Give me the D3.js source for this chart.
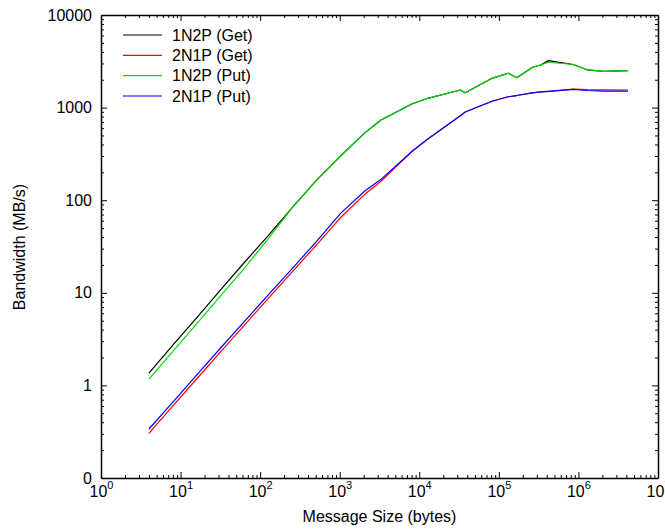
<!DOCTYPE html>
<html>
<head>
<meta charset="utf-8">
<script src="https://cdn.jsdelivr.net/npm/d3@7"></script>
<style>
  html, body { margin: 0; padding: 0; background: #fff; }
  svg { display: block; font-family: "Liberation Sans", Arial, Helvetica, sans-serif; }
</style>
</head>
<body>
<svg id="chart" width="665" height="531"></svg>
<script>
// ---- data ----
const sizes = [4, 8, 16, 32, 64, 128, 256, 512, 1024, 2048, 3300, 8192, 12800, 32768, 37800,
               82000, 131072, 168000, 262144, 340000, 420000, 860000, 1300000, 2097152, 4194304];
const get1N2P = [1.36, 2.72, 5.4, 10.8, 21.5, 42, 84, 165, 300, 530, 735, 1100, 1260, 1550, 1450,
                 2070, 2350, 2100, 2710, 2900, 3215, 2920, 2550, 2460, 2510];
const get2N1P = [0.304, 0.6, 1.18, 2.32, 4.5, 8.8, 17, 33, 65, 115, 160, 340, 458, 817, 895,
                 1170, 1310, 1350, 1440, 1475, 1500, 1580, 1560, 1555, 1550];
const put1N2P = [1.17, 2.33, 4.65, 9.3, 18.6, 39, 84, 165, 300, 530, 735, 1100, 1260, 1550, 1450,
                 2070, 2350, 2100, 2710, 2900, 3090, 2920, 2550, 2460, 2510];
const put2N1P = [0.338, 0.66, 1.3, 2.55, 4.95, 9.6, 18.5, 36, 72, 125, 168, 340, 458, 817, 895,
                 1170, 1310, 1350, 1440, 1475, 1500, 1575, 1530, 1510, 1505];
const seriesNames = ["1N2P (Get)", "2N1P (Get)", "1N2P (Put)", "2N1P (Put)"];
const seriesColors = ["#000000", "#ff0000", "#00dd00", "#0000ff"];
const seriesValues = [get1N2P, get2N1P, put1N2P, put2N1P];
const xTickExps = [0, 1, 2, 3, 4, 5, 6, 7];
const yTickValues = [0.1, 1, 10, 100, 1000, 10000];
const yTickLabels = ["0", "1", "10", "100", "1000", "10000"];
const xTitle = "Message Size (bytes)";
const yTitle = "Bandwidth (MB/s)";

// ---- layout ----
const L = 101, R = 658, T = 15, B = 478;
const svg = d3.select("#chart");
const x = d3.scaleLog().domain([1, 1e7]).range([L, R]);
const y = d3.scaleLog().domain([0.1, 1e4]).range([B, T]);

const majorX = xTickExps.map(e => Math.pow(10, e));
const minorX = [];
for (let e = 0; e < 7; e++) for (let m = 2; m <= 9; m++) minorX.push(m * Math.pow(10, e));
const minorY = [];
for (let e = -1; e < 4; e++) for (let m = 2; m <= 9; m++) minorY.push(m * Math.pow(10, e));

const MAJ = 6, MIN = 3;

function styleAxis(g) {
  g.selectAll("path.domain").attr("stroke", "#000").attr("stroke-width", 1.5);
  g.selectAll(".tick line").attr("stroke", "#000").attr("stroke-width", 1);
}

// bottom axis
const gB = svg.append("g").attr("transform", `translate(0,${B})`)
  .call(d3.axisBottom(x).tickValues(majorX).tickSizeInner(-MAJ).tickSizeOuter(0).tickPadding(0)
    .tickFormat(d => ""));
styleAxis(gB);
gB.selectAll(".tick text").each(function(d) {
  const t = d3.select(this).attr("dy", null).attr("y", 19)
    .attr("font-size", 16).attr("fill", "#000")
    .attr("font-family", '"Liberation Sans", Arial, sans-serif');
  t.text(null);
  t.append("tspan").text("10");
  t.append("tspan").attr("dy", -8).attr("font-size", 11).text(Math.round(Math.log10(d)));
});
svg.append("g").attr("transform", `translate(0,${B})`)
  .call(d3.axisBottom(x).tickValues(minorX).tickSizeInner(-MIN).tickSizeOuter(0).tickFormat(""))
  .call(g => { g.select("path.domain").remove(); styleAxis(g); });

// top axis (mirror)
const gT = svg.append("g").attr("transform", `translate(0,${T})`)
  .call(d3.axisTop(x).tickValues(majorX).tickSizeInner(-MAJ).tickSizeOuter(0).tickFormat(""));
styleAxis(gT);
svg.append("g").attr("transform", `translate(0,${T})`)
  .call(d3.axisTop(x).tickValues(minorX).tickSizeInner(-MIN).tickSizeOuter(0).tickFormat(""))
  .call(g => { g.select("path.domain").remove(); styleAxis(g); });

// left axis
const gL = svg.append("g").attr("transform", `translate(${L},0)`)
  .call(d3.axisLeft(y).tickValues(yTickValues).tickSizeInner(-MAJ).tickSizeOuter(0).tickPadding(9)
    .tickFormat((d, i) => yTickLabels[i]));
styleAxis(gL);
gL.selectAll(".tick text").attr("font-size", 16).attr("fill", "#000")
  .attr("font-family", '"Liberation Sans", Arial, sans-serif');
svg.append("g").attr("transform", `translate(${L},0)`)
  .call(d3.axisLeft(y).tickValues(minorY).tickSizeInner(-MIN).tickSizeOuter(0).tickFormat(""))
  .call(g => { g.select("path.domain").remove(); styleAxis(g); });

// right axis (mirror)
const gR = svg.append("g").attr("transform", `translate(${R},0)`)
  .call(d3.axisRight(y).tickValues(yTickValues).tickSizeInner(-MAJ).tickSizeOuter(0).tickFormat(""));
styleAxis(gR);
svg.append("g").attr("transform", `translate(${R},0)`)
  .call(d3.axisRight(y).tickValues(minorY).tickSizeInner(-MIN).tickSizeOuter(0).tickFormat(""))
  .call(g => { g.select("path.domain").remove(); styleAxis(g); });

// titles
svg.append("text").attr("x", (L + R) / 2).attr("y", 522).attr("text-anchor", "middle")
  .attr("font-size", 16).attr("fill", "#000").text(xTitle);
svg.append("text").attr("transform", "translate(25,247) rotate(-90)").attr("text-anchor", "middle")
  .attr("font-size", 16).attr("fill", "#000").text(yTitle);

// lines
const line = d3.line().x((d, i) => x(sizes[i])).y(d => y(d));
seriesValues.forEach((vals, k) => {
  svg.append("path").datum(vals).attr("d", line).attr("fill", "none")
    .attr("stroke", seriesColors[k]).attr("stroke-width", 1.2).attr("stroke-linejoin", "round");
});

// legend
const legY = d3.scalePoint().domain(seriesNames).range([35, 96]);
const leg = svg.append("g");
seriesNames.forEach((name, k) => {
  const yy = legY(name);
  leg.append("line").attr("x1", 123).attr("x2", 162).attr("y1", yy).attr("y2", yy)
    .attr("stroke", seriesColors[k]).attr("stroke-width", 1.2);
  leg.append("text").attr("x", 172).attr("y", yy + 5.5).attr("font-size", 16)
    .attr("fill", "#000").text(name);
});
</script>
</body>
</html>
